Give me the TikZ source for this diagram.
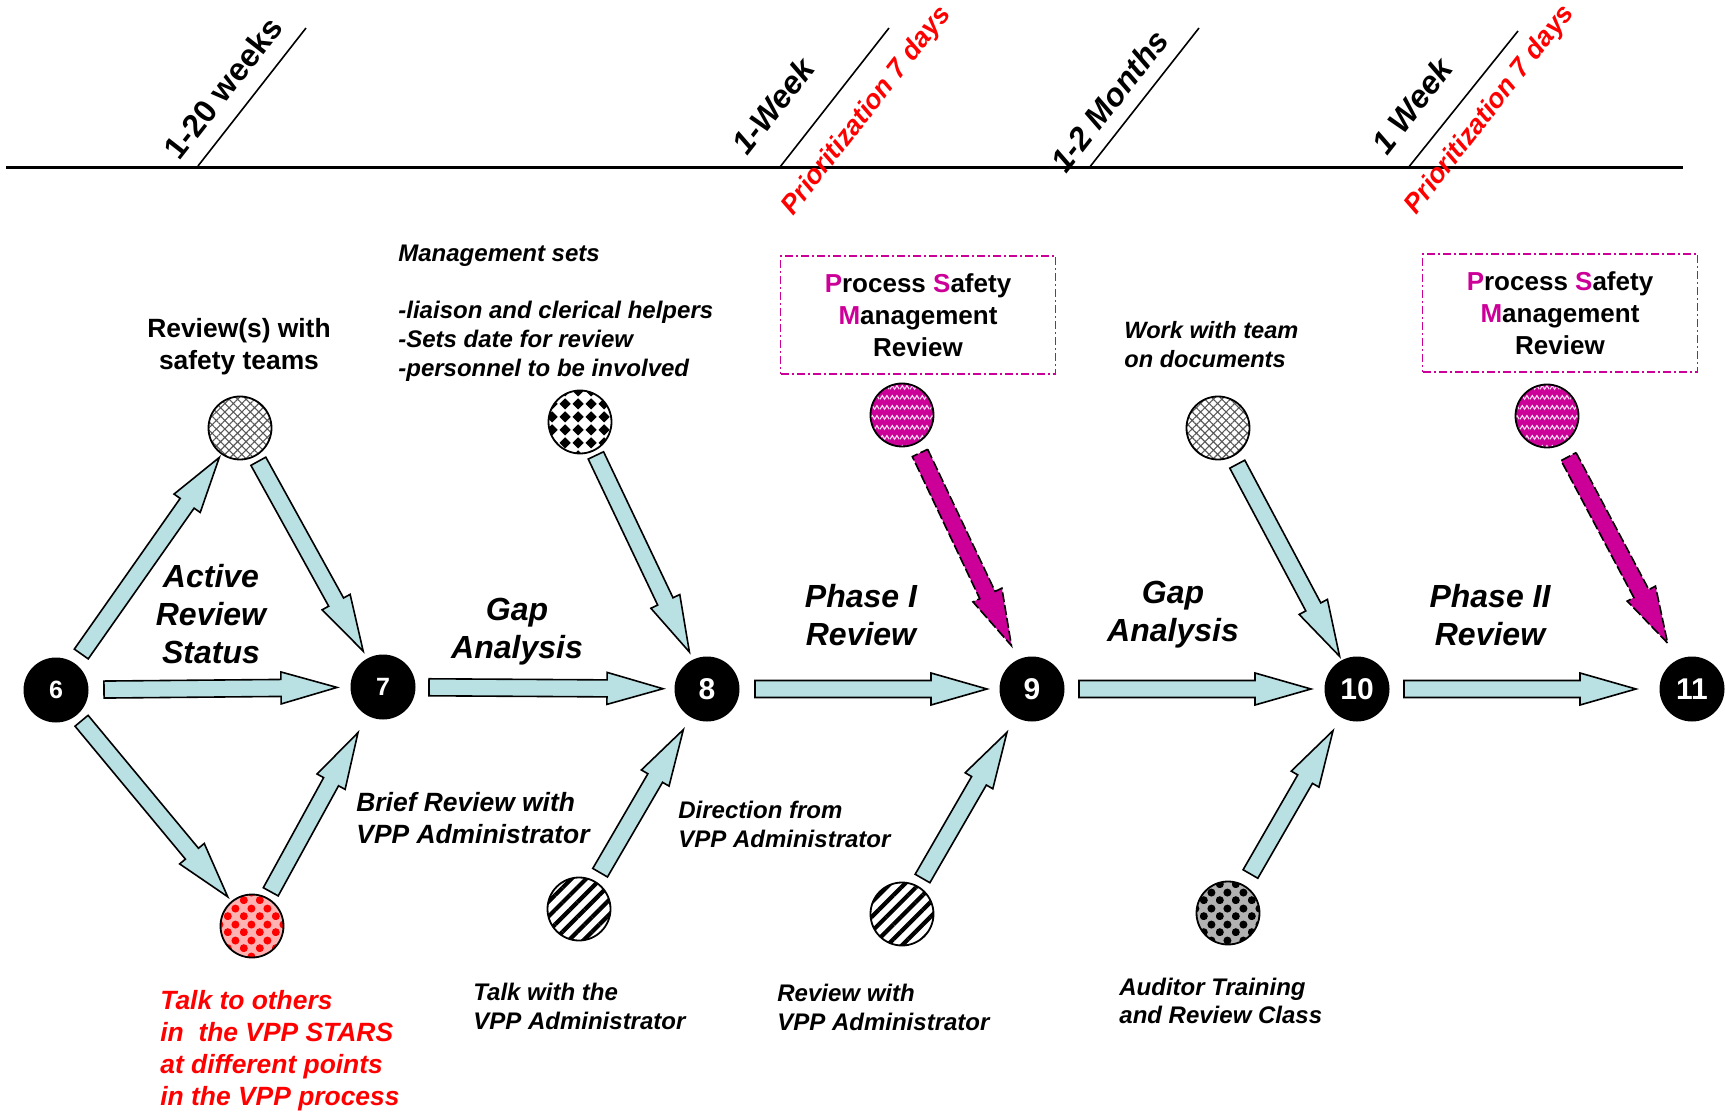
\documentclass[tikz,border=0pt]{standalone}
\usepackage{fontspec}
\setmainfont{Liberation Sans}
\usetikzlibrary{calc, patterns, patterns.meta}

\definecolor{arrowblue}{RGB}{185,224,227}
\definecolor{psmmagenta}{RGB}{204,0,153}

\tikzdeclarepattern{
  name = diamonds,
  bounding box = {(0pt,0pt) and (6.5pt,6.5pt)},
  tile size = {(6.5pt,6.5pt)},
  code = {
    \fill (3.25pt,0.3pt) -- (6.2pt,3.25pt) -- (3.25pt,6.2pt) -- (0.3pt,3.25pt) -- cycle;
  }
}
\tikzdeclarepattern{
  name = balls,
  bounding box = {(0pt,0pt) and (8pt,8pt)},
  tile size = {(8pt,8pt)},
  code = {
    \fill (2pt,2pt) circle [radius = 2.1pt];
    \fill (6pt,6pt) circle [radius = 2.1pt];
  }
}
\tikzdeclarepattern{
  name = waves,
  bounding box = {(0pt,0pt) and (5pt,5pt)},
  tile size = {(5pt,5pt)},
  code = {
    \draw [line width = 0.6pt] (0pt,1.5pt) -- (1.25pt,3.5pt) -- (2.5pt,1.5pt) -- (3.75pt,3.5pt) -- (5pt,1.5pt);
  }
}

% block arrow from #2 to #4, gaps #3 and #5 from the centres
\newcommand{\flowarrow}[5][arrowbody]{%
  \coordinate (fa-s) at ($(#2)!#3!(#4)$);
  \coordinate (fa-e) at ($(#4)!#5!(#2)$);
  \coordinate (fa-h) at ($(fa-e)!28pt!(fa-s)$);
  \draw[#1] ($(fa-s)!4.25pt!90:(fa-e)$) -- ($(fa-h)!4.25pt!90:(fa-e)$)
    -- ($(fa-h)!8pt!90:(fa-e)$) -- (fa-e) -- ($(fa-h)!8pt!-90:(fa-e)$)
    -- ($(fa-h)!4.25pt!-90:(fa-e)$) -- ($(fa-s)!4.25pt!-90:(fa-e)$) -- cycle;
}

\begin{document}
\begin{tikzpicture}[x = 0.5pt, y = -0.5pt,
    stage/.style = { circle, fill = black, text = white, minimum size = 32.5pt, inner sep = 0pt, font = \bfseries\fontsize{15}{15}\selectfont },
    small stage/.style = { stage, font = \bfseries\fontsize{12.5}{12.5}\selectfont },
    input/.style = { circle, draw, line width = 0.9pt, fill = white, minimum size = 31.5pt, inner sep = 0pt },
    weave/.style = { input, pattern = {Hatch[angle = 45, distance = 3pt, line width = 0.55pt]}, pattern color = black!65 },
    stripes/.style = { input, pattern = {Lines[angle = 45, distance = 5.2pt, line width = 2.1pt]} },
    spheres/.style = { input, preaction = { fill = #1!30 }, pattern = balls, pattern color = #1 },
    wavy/.style = { input, preaction = { fill = psmmagenta }, pattern = waves, pattern color = white!85!psmmagenta },
    arrowbody/.style = { draw, line width = 0.8pt, fill = arrowblue, line join = miter },
    psmarrow/.style = { draw, line width = 0.8pt, fill = psmmagenta, dash pattern = on 5pt off 1.5pt },
    psmbox/.style = { draw = psmmagenta, line width = 0.8pt, dash pattern = on 4pt off 1.5pt on 1pt off 1.5pt, minimum width = 137.5pt, minimum height = 59pt, align = center, font = \bfseries\fontsize{13}{16}\selectfont },
    note/.style = { align = left, anchor = west, inner sep = 0pt, font = \bfseries\itshape\fontsize{12}{14.5}\selectfont },
    phase/.style = { align = center, inner sep = 0pt, font = \bfseries\itshape\fontsize{16}{19}\selectfont },
    span/.style = { rotate = 52, inner sep = 0pt, font = \bfseries\fontsize{16}{16}\selectfont },
    span it/.style = { span, font = \bfseries\itshape\fontsize{16}{16}\selectfont },
    prio/.style = { rotate = 52, inner sep = 0pt, text = red, font = \bfseries\itshape\fontsize{13.5}{13.5}\selectfont },
    tick/.style = { line width = 0.8pt }
  ]
  \useasboundingbox (0,0) rectangle (1725,1112);

  % time line
  \draw[line width = 1.5pt] (6,168) -- (1683,168);
  \draw[tick] (198,166) -- (306,28);
  \draw[tick] (780,167) -- (889,28);
  \draw[tick] (1089,168) -- (1199,28);
  \draw[tick] (1408,168) -- (1518,31);
  \node[span] (weeks) at (223,88) {1-20 weeks};
  \node[span it] (week one) at (773,106) {1-Week};
  \node[prio] (prio one) at (867,111) {Prioritization 7 days};
  \node[span it] (months) at (1109,101) {1-2 Months};
  \node[span it] (week two) at (1412,106) {1 Week};
  \node[prio] (prio two) at (1490,110) {Prioritization 7 days};

  % stages
  \node[small stage] (six) at (56,690) {6};
  \node[small stage] (seven) at (383,687) {7};
  \node[stage] (eight) at (707,689) {8};
  \node[stage] (nine) at (1032,689) {9};
  \node[stage] (ten) at (1357,689) {10};
  \node[stage] (eleven) at (1692,689) {11};

  % inputs
  \node[weave] (teams) at (240,428) {};
  \node[spheres = red] (stars) at (252,926) {};
  \node[input, pattern = diamonds] (helpers) at (580,422) {};
  \node[wavy] (psm one) at (902,415) {};
  \node[stripes] (talk) at (579,909) {};
  \node[stripes] (review) at (902,914) {};
  \node[weave] (work) at (1218,428) {};
  \node[spheres = black] (auditor) at (1228,913) {};
  \node[wavy] (psm two) at (1547,416) {};

  % arrows
  \flowarrow{six}{22pt}{teams}{18pt}
  \flowarrow{teams}{19pt}{seven}{20.5pt}
  \flowarrow{six}{24pt}{seven}{23pt}
  \flowarrow{six}{20pt}{stars}{19pt}
  \flowarrow{stars}{19.5pt}{seven}{26pt}
  \flowarrow{seven}{23pt}{eight}{22pt}
  \flowarrow{helpers}{18.5pt}{eight}{20.5pt}
  \flowarrow{talk}{21pt}{eight}{23.5pt}
  \flowarrow{eight}{24pt}{nine}{22.5pt}
  \flowarrow[psmarrow]{psm one}{21pt}{nine}{24pt}
  \flowarrow{review}{20.5pt}{nine}{25pt}
  \flowarrow{nine}{23.5pt}{ten}{23pt}
  \flowarrow{work}{20.5pt}{ten}{18.5pt}
  \flowarrow{auditor}{22.5pt}{ten}{24pt}
  \flowarrow{ten}{23.5pt}{eleven}{28pt}
  \flowarrow[psmarrow]{psm two}{23pt}{eleven}{26pt}

  % boxes
  \node[psmbox] (psm box one) at (918,315) {\textcolor{psmmagenta}{P}rocess \textcolor{psmmagenta}{S}afety\\ \textcolor{psmmagenta}{M}anagement\\ Review};
  \node[psmbox] (psm box two) at (1560,313) {\textcolor{psmmagenta}{P}rocess \textcolor{psmmagenta}{S}afety\\ \textcolor{psmmagenta}{M}anagement\\ Review};

  % labels
  \node[align = center, font = \bfseries\fontsize{13.2}{16}\selectfont] (teams text) at (239,347) {Review(s) with\\ safety teams};
  \node[note] (helpers text) at (398,313) {Management sets\\[14pt] -liaison and clerical helpers\\ -Sets date for review\\ -personnel to be involved};
  \node[note, font = \bfseries\itshape\fontsize{11.8}{14.5}\selectfont] (work text) at (1124,345) {Work with team\\ on documents};
  \node[phase] (active) at (211,614) {Active\\ Review\\ Status};
  \node[phase] (gap one) at (517,632) {Gap\\ Analysis};
  \node[phase] (phase one) at (861,615) {Phase I\\ Review};
  \node[phase] (gap two) at (1173,615) {Gap\\ Analysis};
  \node[phase] (phase two) at (1490,615) {Phase II\\ Review};
  \node[note, font = \bfseries\itshape\fontsize{13.2}{16}\selectfont] (brief) at (356,818) {Brief Review with\\ VPP Administrator};
  \node[note] (direction) at (678,824) {Direction from\\ VPP Administrator};
  \node[note] (talk text) at (473,1006) {Talk with the\\ VPP Administrator};
  \node[note] (review text) at (777,1007) {Review with\\ VPP Administrator};
  \node[note, font = \bfseries\itshape\fontsize{12}{14}\selectfont] (auditor text) at (1119,1001) {Auditor Training\\ and Review Class};
  \node[note, text = red, font = \bfseries\itshape\fontsize{13.2}{16}\selectfont] (stars text) at (160,1051) {Talk to others\\ in\ \ the VPP STARS\\ at different points\\ in the VPP process};
\end{tikzpicture}
\end{document}
